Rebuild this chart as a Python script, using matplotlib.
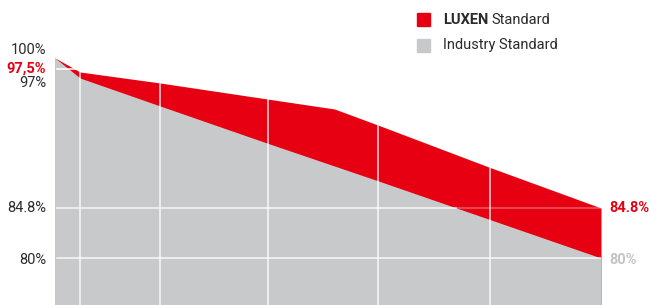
import matplotlib.pyplot as plt

# ── Data ──────────────────────────────────────────────────────────────────────
years        = [0.0, 0.23, 0.96, 1.95, 2.56, 2.96, 3.98, 5.0]
luxen        = [99.2, 97.85, 96.8, 95.25, 94.3, 92.75, 88.7, 84.8]
industry_x   = [0.0, 0.23, 0.96, 1.95, 2.96, 3.98, 5.0]
industry     = [99.2, 97.27, 94.6, 91.0, 87.4, 83.7, 80.0]
grid_x       = [0.23, 0.96, 1.95, 2.96, 3.98]
left_labels  = ["100%", "97%", "84.8%", "80%"]
left_values  = [100.0, 96.8, 84.8, 79.8]

RED  = "#e60012"
GREY = "#c8c9cb"
TEXT = "#2b2b2b"
FONT = ["Roboto", "DejaVu Sans"]
plt.rcParams["font.family"] = FONT

fig = plt.figure(figsize=(6.49, 3.05), dpi=100)
ax = fig.add_axes([55 / 649, 0, 546 / 649, 1])
ax.set_xlim(0, 5)
ax.set_ylim(75.49, 104.76)
ax.axis("off")

bottom = 75.49
ax.fill_between(years, luxen, bottom, color=RED, lw=0, zorder=1)
ax.fill_between(industry_x, industry, bottom, color=GREY, lw=0, zorder=2)

# white grid over the filled area
for gx in grid_x:
    ax.axvline(gx, color="white", lw=1.1, alpha=0.85, zorder=3)
ax.axhline(80.0, color="white", lw=1.1, alpha=0.85, zorder=3)
ax.hlines(84.8, 0, 3.68, color="white", lw=1.1, alpha=0.85, zorder=3)
ax.hlines(84.8, 3.68, 5, color="white", lw=1.1, alpha=0.35, zorder=3)
ax.hlines(98.1, 0, 0.23, color="white", lw=1.1, zorder=3)

# pinkish left edge
ax.vlines(0, bottom, 99.2, color="#f2b6ba", lw=1.0, zorder=4)

# left value labels
for lab, v in zip(left_labels, left_values):
    ax.text(-0.08, v, lab, ha="right", va="center", fontsize=10.5, color=TEXT,
            clip_on=False)
ax.text(-0.08, 98.15, "97,5%", ha="right", va="center", fontsize=10.5,
        color=RED, fontweight="bold", clip_on=False)

# right end labels
ax.text(5.08, 84.8, "84.8%", ha="left", va="center", fontsize=10.5,
        color=RED, fontweight="bold", clip_on=False)
ax.text(5.08, 79.85, "80%", ha="left", va="center", fontsize=10.5,
        color="#c4c4c4", fontweight="bold", clip_on=False)

# legend
fig.patches.append(plt.Rectangle((417 / 649, 1 - 26 / 305), 13 / 649, 13 / 305,
                                 transform=fig.transFigure, color=RED))
fig.patches.append(plt.Rectangle((417 / 649, 1 - 52 / 305), 13 / 649, 13 / 305,
                                 transform=fig.transFigure, color=GREY))
t = fig.text(443 / 649, 1 - 19.5 / 305, "LUXEN", ha="left", va="center",
             fontsize=10.5, fontweight="bold", color=TEXT)
fig.canvas.draw()
bb = t.get_window_extent()
fig.text(bb.x1 / 649 + 3 / 649, 1 - 19.5 / 305, "Standard", ha="left", va="center",
         fontsize=10.5, color=TEXT)
fig.text(443 / 649, 1 - 45 / 305, "Industry Standard", ha="left", va="center",
         fontsize=10.5, color=TEXT)

fig.savefig("out.png", dpi=100)
